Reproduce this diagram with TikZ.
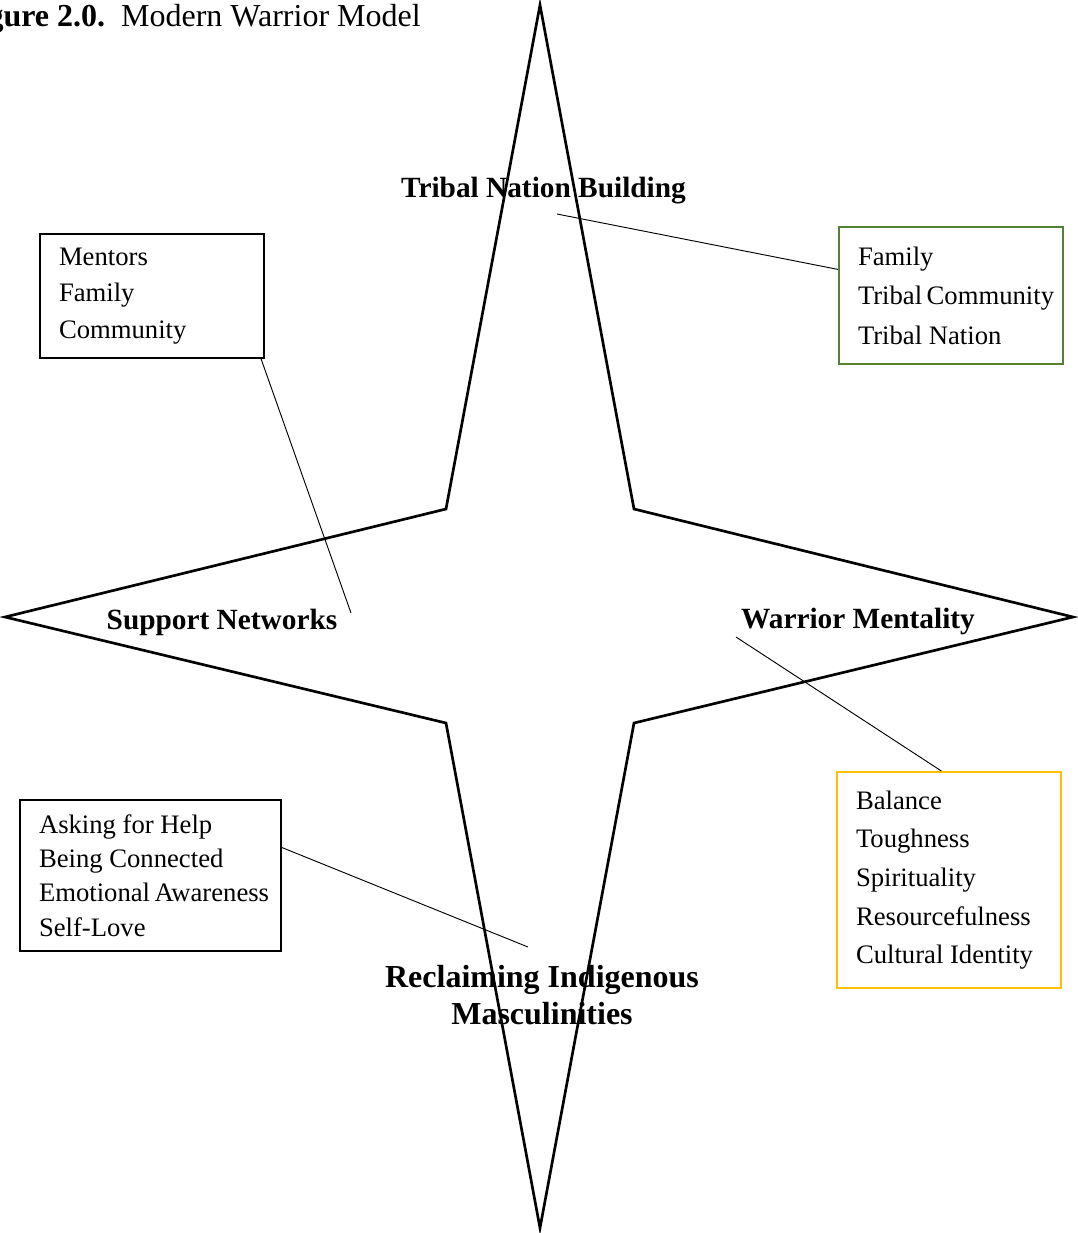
\documentclass[tikz,border=0pt]{standalone}
\usepackage{fontspec}
\setmainfont{Liberation Serif}
\definecolor{boxgreen}{RGB}{84,130,53}
\definecolor{boxyellow}{RGB}{255,192,0}
\tikzstyle{listbox} = [draw, rectangle, align=flush left, anchor=north west, inner xsep=14.25pt, inner ysep=0pt, line width=1.5pt]
\tikzstyle{point} = [align=center, inner sep=0pt, font=\fontsize{22}{27.75}\selectfont\bfseries]
\tikzstyle{link} = [line width=0.7pt]
\newcommand{\boxfont}[1]{\fontsize{20}{#1}\selectfont\hyphenpenalty=10000 }

\begin{document}
\begin{tikzpicture}[x=0.75pt,y=-0.75pt]
    \useasboundingbox (0,0) rectangle (1078,1233);
    \clip (0,0) rectangle (1078,1233);
    % title
    \node [anchor=east, inner sep=0pt, font=\fontsize{24}{28}\selectfont] (title) at (421,19)
        {\textbf{Figure 2.0.}\ \ Modern Warrior Model};
    % star
    \draw [line width=2pt, line join=miter]
        (540,5) -- (634,509) -- (1073,617) -- (634,723) -- (540,1228)
        -- (446,723) -- (5,617) -- (446,509) -- cycle;
    % the four points
    \node [point] (tnb) at (543.5,191) {Tribal Nation Building};
    \node [point] (support) at (222,622) {Support Networks};
    \node [point] (warrior) at (858,621) {Warrior Mentality};
    \node [point, font=\fontsize{24}{27.75}\selectfont\bfseries] (reclaim) at (542,995)
        {Reclaiming Indigenous\\Masculinities};
    % boxes
    \node [listbox, text width=139.5pt, minimum height=93pt, font=\boxfont{27.4}]
        (mentors) at (39,233) {Mentors\\Family\\Community};
    \node [listbox, draw=boxgreen, text width=139.5pt, minimum height=102.75pt, font=\boxfont{29.6}]
        (family) at (838,226) {Family\\Tribal~Community\\Tribal~Nation};
    \node [listbox, draw=boxyellow, text width=139.5pt, minimum height=162pt, font=\boxfont{29}]
        (virtues) at (836,771) {Balance\\Toughness\\Spirituality\\Resourcefulness\\Cultural~Identity};
    \node [listbox, text width=167.25pt, minimum height=113.25pt, font=\boxfont{25.7}]
        (help) at (19,799) {Asking~for~Help\\Being~Connected\\Emotional~Awareness\\Self-Love};
    % connectors
    \coordinate (tnbend) at (557,214);
    \coordinate (supportend) at (351,613);
    \coordinate (warriorend) at (736,637);
    \coordinate (reclaimend) at (528,947);
    \draw [link] (tnbend) -- (family.167.2);
    \draw [link] (mentors.-30.6) -- (supportend);
    \draw [link] (warriorend) -- (virtues.94.8);
    \draw [link] (help.12.3) -- (reclaimend);
\end{tikzpicture}
\end{document}
